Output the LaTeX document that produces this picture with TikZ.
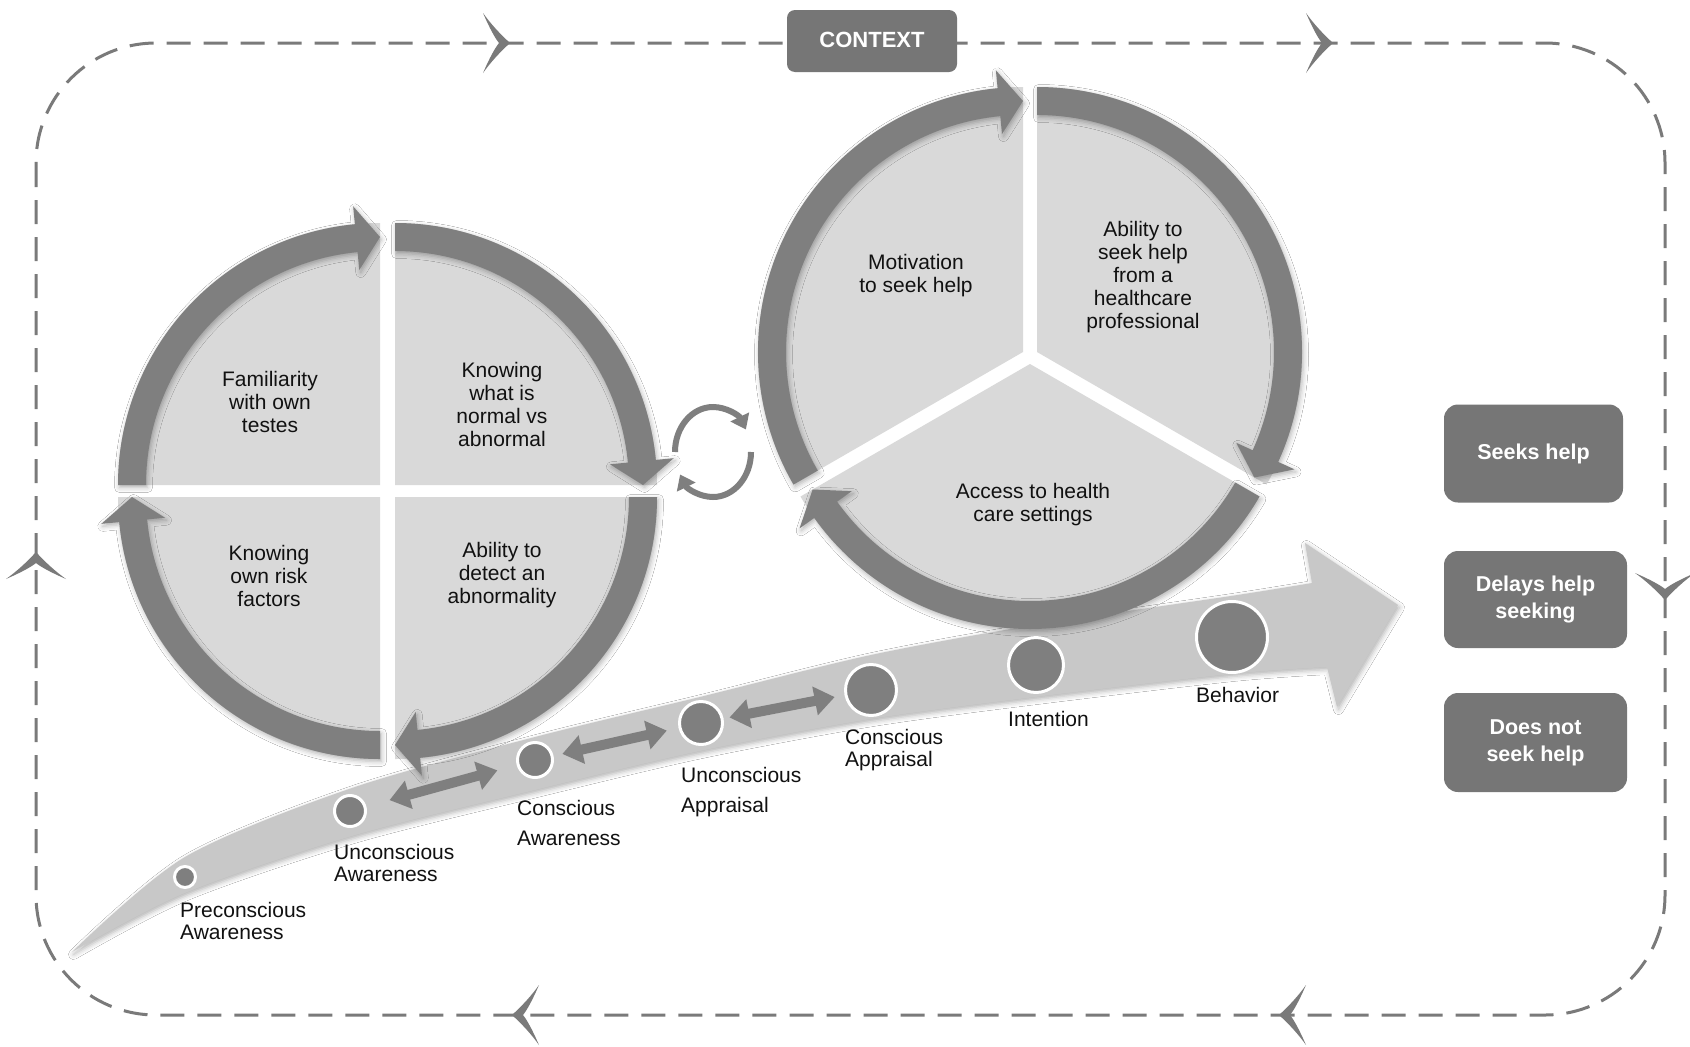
\documentclass[tikz,border=0pt]{standalone}
\usepackage{fontspec}
\setmainfont{Liberation Sans}
\usetikzlibrary{arrows.meta,calc,shadows.blur}
\definecolor{ringc}{HTML}{7F7F7F}
\definecolor{sectc}{HTML}{D9D9D9}
\definecolor{bandc}{HTML}{C8C8C8}
\definecolor{boxc}{HTML}{767676}
\definecolor{dashc}{HTML}{7A7A7A}
\definecolor{txtc}{HTML}{111111}
\def\cRo{262}\def\cRi{234}\def\cRc{248}\def\cRoh{280}\def\cRih{216}\def\cHd{5.5}
\newcommand\ringarrow[3]{%
  \pgfmathsetmacro\bk{#3-\cHd}%
  \fill[ringc, myshadow] ($(#1)+(#2:\cRo)$) arc[start angle=#2, end angle=\bk, radius=\cRo]
    -- ($(#1)+(\bk:\cRoh)$) -- ($(#1)+(#3:\cRc)$) -- ($(#1)+(\bk:\cRih)$)
    -- ($(#1)+(\bk:\cRi)$) arc[start angle=\bk, end angle=#2, radius=\cRi] -- cycle;}
\newcommand\sectfill[3]{\fill[sectc] (#1) -- ($(#1)+(#2:\cRo)$) arc[start angle=#2, end angle=#3, radius=\cRo] -- cycle;}
\newcommand\chev[2]{\fill[dashc, shift={(#1)}, rotate=#2] (0,0) .. controls (-10,-9) and (-20,-20) .. (-27,-30) .. controls (-20,-14) and (-15,-5) .. (-11,0) .. controls (-15,5) and (-20,14) .. (-27,30) .. controls (-20,20) and (-10,9) .. (0,0) -- cycle;}
\tikzset{
  myshadow/.style={blur shadow={shadow xshift=1.5pt, shadow yshift=-2.5pt, shadow blur radius=5pt, shadow opacity=30}},
  marker/.style={circle, fill=ringc, draw=white, line width=3pt, inner sep=0pt},
  lab/.style={font=\fontsize{21}{22}\selectfont, align=left, inner sep=0pt, text=txtc, anchor=west},
  qtext/.style={font=\fontsize{21}{23}\selectfont, align=center, inner sep=0pt, text=txtc},
  obox/.style={fill=boxc, rounded corners=14pt, text=white, font=\bfseries\fontsize{21.5}{27}\selectfont, align=center, inner sep=0pt},
  dbl/.style={draw=ringc, line width=10pt, {Triangle[width=28pt,length=20pt]}-{Triangle[width=28pt,length=20pt]}}
}
\begin{document}
\begin{tikzpicture}[x=1pt,y=-1pt]
\useasboundingbox (0,0) rectangle (1690,1047);
\fill[white] (0,0) rectangle (1690,1047);
% context frame
\draw[dashc, line width=3pt, dash pattern=on 24pt off 13pt, rounded corners=120pt] (36,43) rectangle (1665,1015);
\chev{510,43}{0}
\chev{1333,43}{0}
\chev{512,1015}{180}
\chev{1279,1015}{180}
\chev{36,552}{90}
\chev{1665,600}{-90}
\node[obox, minimum width=170pt, minimum height=62pt, rounded corners=8pt, font=\bfseries\fontsize{22}{27}\selectfont] (ctx) at (872,41) {\raisebox{3pt}{CONTEXT}};
% progression band
\fill[bandc, myshadow] plot[smooth] coordinates {(72,952) (185,857) (352,788) (535,737) (700,697) (871,655) (1035,625) (1231,596) (1312,583)}
  -- (1305,543) -- (1398,605) -- (1337,707) -- (1327,667)
  -- plot[smooth] coordinates {(1327,667) (1231,674) (1035,697) (871,719) (700,751) (535,790) (352,836) (185,893) (72,952)} -- cycle;
% left circle
\coordinate (LTL) at (380,485);
\coordinate (LTR) at (395,485);
\coordinate (LBL) at (380,497);
\coordinate (LBR) at (395,497);
\sectfill{LTL}{180}{270}
\sectfill{LTR}{270}{360}
\sectfill{LBR}{0}{90}
\sectfill{LBL}{90}{180}
\ringarrow{LTL}{180}{270}
\ringarrow{LTR}{270}{360}
\ringarrow{LBR}{0}{90}
\ringarrow{LBL}{90}{180}
\node[qtext] (q1) at (270,402) {Familiarity\\with own\\testes};
\node[qtext] (q2) at (502,404) {Knowing\\what is\\normal vs\\abnormal};
\node[qtext] (q3) at (269,576) {Knowing\\own risk\\factors};
\node[qtext] (q4) at (502,575) {Ability to\\detect an\\abnormality};
% right circle
\def\cRo{265}\def\cRi{237}\def\cRc{251}\def\cRoh{283}\def\cRih{219}
\coordinate (RUL) at (1023,352);
\coordinate (RUR) at (1037,352);
\coordinate (RB) at (1030,364);
\sectfill{RUL}{150}{270}
\sectfill{RUR}{270}{390}
\sectfill{RB}{30}{150}
\ringarrow{RUL}{150}{270}
\ringarrow{RUR}{270}{390}
\ringarrow{RB}{30}{150}
\node[qtext] (r1) at (916,276) {Motivation\\to seek help};
\node[qtext] (r2) at (1143,277) {Ability to\\seek help\\from a\\healthcare\\professional};
\node[qtext] (r3) at (1033,505) {Access to health\\care settings};
% rotation icon
\coordinate (rot) at (713,452);
\draw[ringc, line width=6pt, -{Triangle[width=20pt,length=14pt]}] ($(rot)+(-38,0)$) arc[start angle=180, end angle=330, x radius=38, y radius=45];
\draw[ringc, line width=6pt, -{Triangle[width=20pt,length=14pt]}] ($(rot)+(38,0)$) arc[start angle=0, end angle=150, x radius=38, y radius=45];
% stage markers
\node[marker, minimum size=21pt] (m1) at (185,877) {};
\node[marker, minimum size=31pt] (m2) at (350,811) {};
\node[marker, minimum size=35pt] (m3) at (535,760) {};
\node[marker, minimum size=43pt] (m4) at (701,723) {};
\node[marker, minimum size=51pt] (m5) at (871,690) {};
\node[marker, minimum size=55pt] (m6) at (1036,665) {};
\node[marker, minimum size=71pt] (m7) at (1232,637) {};
\draw[dbl, shorten <=24pt, shorten >=20pt] (m2) -- (m3);
\draw[dbl, shorten <=9pt, shorten >=12pt] (m3) -- (m4);
\draw[dbl, shorten <=6pt, shorten >=10pt] (m4) -- (m5);
% stage labels
\node[lab] (l1) at (180,921) {Preconscious\\Awareness};
\node[lab] (l2) at (334,863) {Unconscious\\Awareness};
\node[lab, font=\fontsize{21}{30}\selectfont] (l3) at (517,823) {Conscious\\Awareness};
\node[lab, font=\fontsize{21}{30}\selectfont] (l4) at (681,792) {Unconscious\\Appraisal};
\node[lab] (l5) at (845,750) {Conscious\\Appraisal};
\node[lab] (l6) at (1008,719) {Intention};
\node[lab] (l7) at (1196,695) {Behavior};
% outcome boxes
\node[obox, minimum width=179pt, minimum height=98pt] (o1) at (1533.5,453.5) {Seeks help};
\node[obox, minimum width=183pt, minimum height=97pt] (o2) at (1535.5,599.5) {Delays help\\seeking};
\node[obox, minimum width=183pt, minimum height=99pt] (o3) at (1535.5,742.5) {Does not\\seek help};
\end{tikzpicture}
\end{document}
